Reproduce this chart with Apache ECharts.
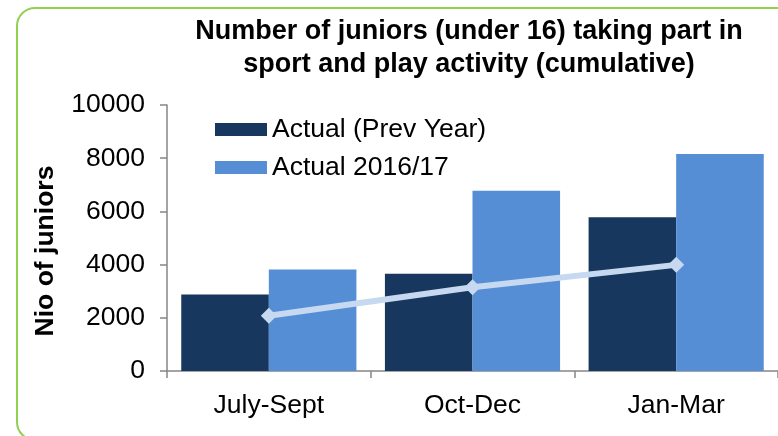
<!DOCTYPE html>
<html>
<head>
<meta charset="utf-8">
<script src="https://cdn.jsdelivr.net/npm/echarts@6/dist/echarts.min.js"></script>
<style>
  html, body { margin: 0; padding: 0; background: #ffffff; }
  #chart { width: 778px; height: 436px; }
</style>
</head>
<body>
<div id="chart"></div>
<script>
// Quarterly cumulative counts of junior participants
const categories = ['July-Sept', 'Oct-Dec', 'Jan-Mar'];
const prevYear = [2880, 3660, 5780];
const actual1617 = [3820, 6780, 8160];
const trendLine = [2080, 3150, 3990];
const yTicks = { min: 0, max: 10000, interval: 2000 };

const FONT = '"Liberation Sans", Arial, sans-serif';
const AXIS_GREY = '#868686';

const chart = echarts.init(document.getElementById('chart'), null, { renderer: 'canvas' });

chart.setOption({
  animation: false,
  backgroundColor: '#ffffff',
  graphic: [{
    type: 'rect',
    shape: { x: 17, y: 8, width: 790, height: 432, r: 18 },
    style: { fill: 'none', stroke: '#92d050', lineWidth: 2 },
    silent: true
  }],
  title: {
    text: 'Number of juniors (under 16) taking part in\nsport and play activity (cumulative)',
    left: 464,
    top: 10,
    textAlign: 'center',
    textStyle: {
      fontFamily: FONT,
      fontWeight: 'bold',
      fontSize: 27,
      lineHeight: 33,
      color: '#000000'
    }
  },
  legend: {
    orient: 'vertical',
    left: 210,
    top: 111,
    itemWidth: 52,
    itemHeight: 13,
    itemGap: 11,
    icon: 'rect',
    data: ['Actual (Prev Year)', 'Actual 2016/17'],
    textStyle: { fontFamily: FONT, fontSize: 26.5, lineHeight: 25, color: '#000000' }
  },
  grid: { left: 167, top: 105, bottom: 65, width: 614, containLabel: false },
  xAxis: {
    type: 'category',
    data: categories,
    axisLine: { lineStyle: { color: AXIS_GREY, width: 1.5 } },
    axisTick: { show: true, length: 7, lineStyle: { color: AXIS_GREY, width: 1.5 } },
    axisLabel: { fontFamily: FONT, fontSize: 26.5, color: '#000000', margin: 21 },
    splitLine: { show: false }
  },
  yAxis: {
    type: 'value',
    min: yTicks.min,
    max: yTicks.max,
    interval: yTicks.interval,
    name: 'Nio of juniors',
    nameLocation: 'middle',
    nameGap: 108,
    nameRotate: 90,
    nameTextStyle: {
      fontFamily: FONT, fontWeight: 'bold', fontSize: 26.5, color: '#000000',
      padding: [0, 26, 0, 0]
    },
    axisLine: { show: true, lineStyle: { color: AXIS_GREY, width: 1.5 } },
    axisTick: { show: true, length: 7, lineStyle: { color: AXIS_GREY, width: 1.5 } },
    axisLabel: {
      fontFamily: FONT, fontSize: 26.5, color: '#000000', margin: 22,
      formatter: (v) => String(v)
    },
    splitLine: { show: false }
  },
  series: [
    {
      name: 'Actual (Prev Year)',
      type: 'bar',
      data: prevYear,
      barGap: '0%',
      barCategoryGap: '14%',
      itemStyle: { color: '#17375e' }
    },
    {
      name: 'Actual 2016/17',
      type: 'bar',
      data: actual1617,
      barGap: '0%',
      barCategoryGap: '14%',
      itemStyle: { color: '#558ed5' }
    },
    {
      name: 'Target',
      type: 'line',
      data: trendLine,
      z: 5,
      symbol: 'diamond',
      symbolSize: 16,
      lineStyle: { color: '#c6d9f1', width: 6 },
      itemStyle: { color: '#c6d9f1' }
    }
  ]
});
</script>
</body>
</html>
